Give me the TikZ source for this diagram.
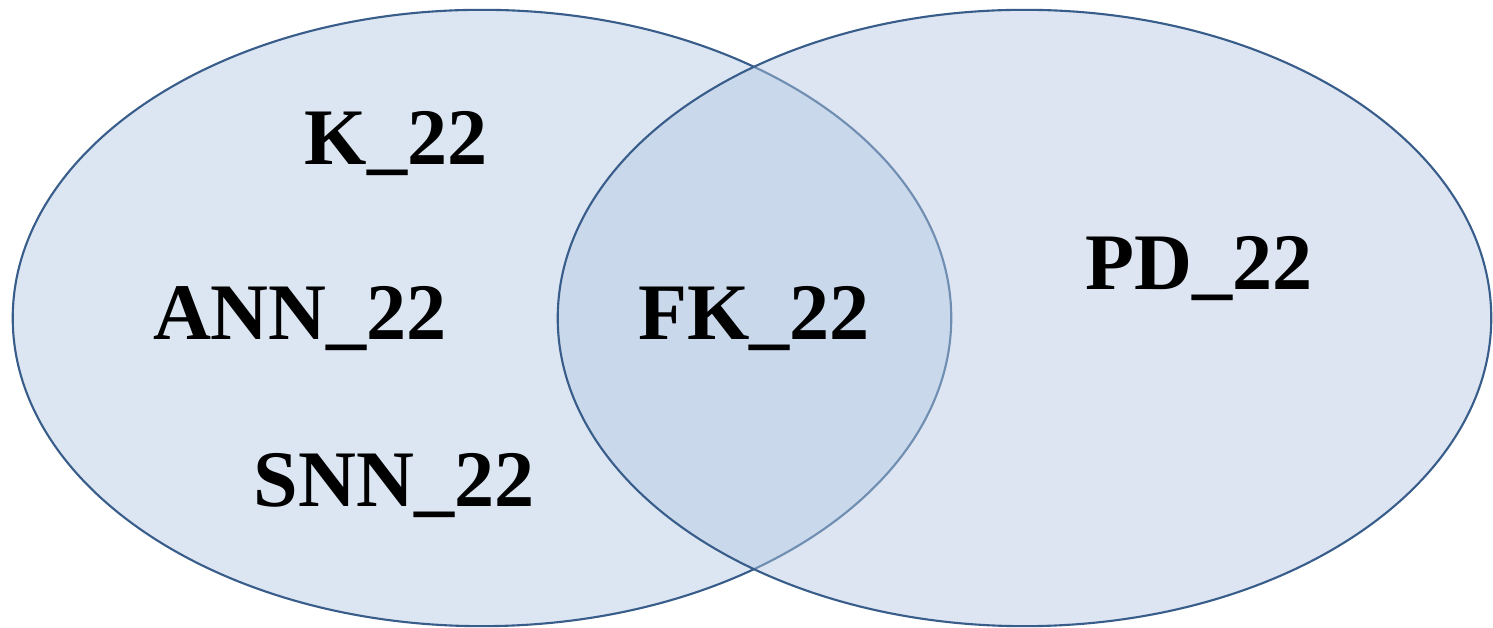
\documentclass[tikz,border=0pt]{standalone}
\usepackage{fontspec}
\setmainfont{Liberation Serif}
\definecolor{setfill}{HTML}{DCE6F2}
\definecolor{setfilltwo}{RGB}{179,200,225}
\definecolor{setline}{HTML}{385D8A}
\begin{document}
\begin{tikzpicture}[x=0.01cm,y=-0.01cm,
  lbl/.style={anchor=base,inner sep=0pt,font=\fontsize{22.8}{27}\selectfont\bfseries,text=black},
  setline/.style={draw=setline,line width=0.6pt}]
\useasboundingbox[fill=white] (0,0) rectangle (1493,628);
\fill[setfill] (482,318) ellipse [x radius=4.69cm, y radius=3.08cm];
\draw[setline] (482,318) ellipse [x radius=4.69cm, y radius=3.08cm];
\fill[setfilltwo,fill opacity=0.46] (1024.5,318) ellipse [x radius=4.665cm, y radius=3.08cm];
\draw[setline] (1024.5,318) ellipse [x radius=4.665cm, y radius=3.08cm];
\node[lbl] (k) at (396,165) {K\_22};
\node[lbl] (ann) at (300,340) {ANN\_22};
\node[lbl] (snn) at (394,507) {SNN\_22};
\node[lbl] (fk) at (754,340) {FK\_22};
\node[lbl] (pd) at (1199,290) {PD\_22};
\end{tikzpicture}
\end{document}
